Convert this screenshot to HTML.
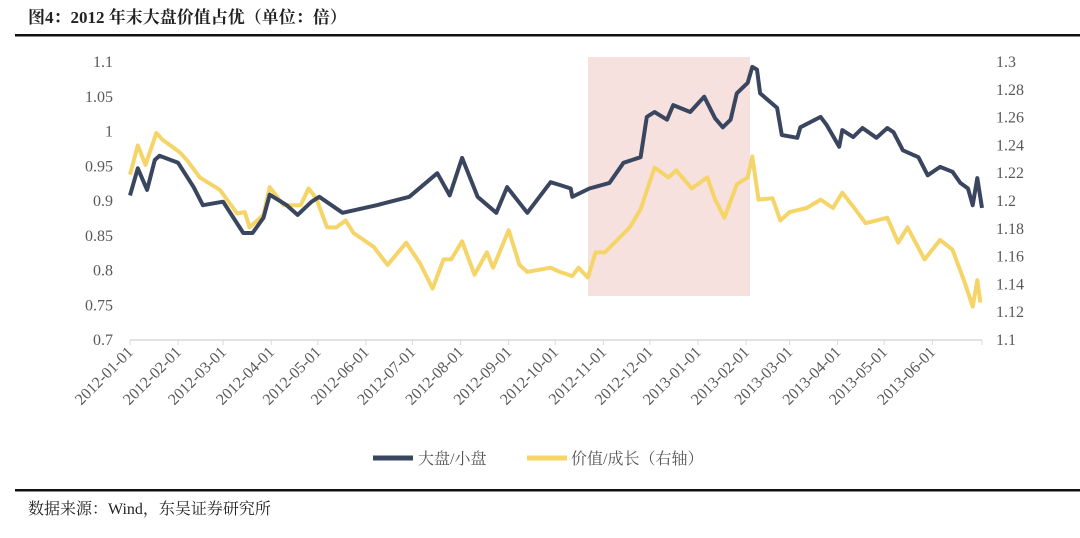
<!DOCTYPE html>
<html><head><meta charset="utf-8"><style>
body{margin:0;background:#fff;width:1080px;height:533px;overflow:hidden;font-family:"Liberation Serif","Noto Serif CJK SC",serif;}
</style></head><body>
<svg width="1080" height="533" xmlns="http://www.w3.org/2000/svg">
<text x="28" y="23" font-size="17" font-weight="bold" fill="#222" font-family="Liberation Serif, Noto Serif CJK SC, serif">图4：2012 年末大盘价值占优（单位：倍）</text>
<rect x="15" y="34" width="1065" height="2.5" fill="#111"/>
<rect x="588" y="57" width="162" height="239" fill="#f6e1df"/>
<g id="axes"></g>
<g id="lines"></g>
<g>
<line x1="373" y1="458" x2="413" y2="458" stroke="#3a4660" stroke-width="5"/>
<text x="418" y="464" font-size="16" fill="#555">大盘/小盘</text>
<line x1="527" y1="458" x2="567" y2="458" stroke="#f5d468" stroke-width="5"/>
<text x="571" y="464" font-size="16" fill="#555">价值/成长（右轴）</text>
</g>
<rect x="15" y="489" width="1065" height="2.5" fill="#111"/>
<text x="28" y="514" font-size="16" fill="#222">数据来源：Wind，东吴证券研究所</text>
</svg>
<script>
const NS="http://www.w3.org/2000/svg";
const tickLabels=["2012-01-01","2012-02-01","2012-03-01","2012-04-01","2012-05-01","2012-06-01","2012-07-01","2012-08-01","2012-09-01","2012-10-01","2012-11-01","2012-12-01","2013-01-01","2013-02-01","2013-03-01","2013-04-01","2013-05-01","2013-06-01"];
const leftTicks=[0.7,0.75,0.8,0.85,0.9,0.95,1,1.05,1.1];
const rightTicks=[1.1,1.12,1.14,1.16,1.18,1.2,1.22,1.24,1.26,1.28,1.3];
const bigDays=[0,5,11,16,19,31,41,47,60,73,79,86,90,101,108,117,122,137,159,180,198,206,214,224,236,243,256,271,277,284,285,296,309,318,329,333,338,346,350,361,370,377,382,387,391,398,401,404,406,417,420,430,432,445,449,457,459,466,472,481,488,492,498,508,514,522,530,535,540,543,546,549];
const bigVals=[0.908,0.947,0.916,0.959,0.965,0.955,0.92,0.894,0.899,0.854,0.854,0.876,0.909,0.894,0.88,0.899,0.906,0.883,0.894,0.906,0.94,0.908,0.962,0.906,0.883,0.92,0.883,0.927,0.923,0.918,0.906,0.918,0.926,0.955,0.963,1.021,1.028,1.017,1.038,1.028,1.05,1.019,1.006,1.017,1.055,1.07,1.093,1.089,1.055,1.034,0.995,0.991,1.006,1.021,1.009,0.978,1.002,0.992,1.005,0.991,1.005,0.999,0.973,0.963,0.937,0.949,0.942,0.926,0.918,0.894,0.933,0.89];
const valDays=[0,5,10,17,21,32,37,45,58,69,74,77,86,90,99,110,115,120,127,133,139,144,157,166,178,187,195,202,207,214,222,230,234,244,251,256,271,277,285,289,295,300,306,314,322,329,338,347,352,362,372,377,383,391,398,401,405,414,419,425,436,445,453,459,466,474,488,495,501,512,522,530,538,543,546,548];
const valVals=[1.219,1.24,1.226,1.249,1.244,1.235,1.229,1.217,1.208,1.191,1.192,1.181,1.19,1.21,1.197,1.197,1.209,1.202,1.181,1.181,1.186,1.177,1.167,1.154,1.17,1.155,1.137,1.158,1.158,1.171,1.147,1.163,1.152,1.179,1.154,1.149,1.152,1.149,1.146,1.152,1.145,1.163,1.163,1.172,1.181,1.194,1.224,1.217,1.222,1.209,1.217,1.201,1.188,1.212,1.217,1.232,1.201,1.202,1.186,1.192,1.195,1.201,1.195,1.206,1.196,1.184,1.188,1.17,1.181,1.158,1.172,1.165,1.141,1.124,1.143,1.127];
const X0=130,X1=982,DMAX=549;
const x=d=>X0+(d/DMAX)*(X1-X0);
const yL=v=>340-(v-0.7)/0.4*278;
const yR=v=>340-(v-1.1)/0.2*278;
const monthDays=[0,31,60,91,121,152,182,213,244,274,305,335,366,397,425,456,486,517];
const axes=document.getElementById("axes"),lines=document.getElementById("lines");
function mk(tag,attrs,parent){const e=document.createElementNS(NS,tag);for(const k in attrs)e.setAttribute(k,attrs[k]);parent.appendChild(e);return e;}
const ax=mk("line",{x1:X0,y1:340,x2:X1,y2:340,stroke:"#d9d9d9","stroke-width":1.5},axes);


tickLabels.forEach((t,i)=>{const px=x(monthDays[i]);
const tk=mk("line",{x1:px,y1:340,x2:px,y2:345,stroke:"#d9d9d9","stroke-width":1},axes);


const tx=mk("text",{x:px+4,y:353,"font-size":16,fill:"#595959","text-anchor":"end",transform:`rotate(-45 ${px+4} 353)`},axes);


tx.textContent=t;});
const lastTk=mk("line",{x1:X1,y1:340,x2:X1,y2:345,stroke:"#d9d9d9","stroke-width":1},axes);


leftTicks.forEach(v=>{const tx=mk("text",{x:113,y:yL(v)+5,"font-size":16,fill:"#595959","text-anchor":"end"},axes);


tx.textContent=String(v);});
rightTicks.forEach(v=>{const tx=mk("text",{x:996,y:yR(v)+5,"font-size":16,fill:"#595959"},axes);


tx.textContent=String(v);});
const p2=mk("polyline",{points:valDays.map((d,i)=>x(d).toFixed(1)+","+yR(valVals[i]).toFixed(1)).join(" "),fill:"none",stroke:"#f5d468","stroke-width":4,"stroke-linejoin":"round"},lines);


const p1=mk("polyline",{points:bigDays.map((d,i)=>x(d).toFixed(1)+","+yL(bigVals[i]).toFixed(1)).join(" "),fill:"none",stroke:"#3a4660","stroke-width":4,"stroke-linejoin":"round"},lines);


</script>
</body></html>
